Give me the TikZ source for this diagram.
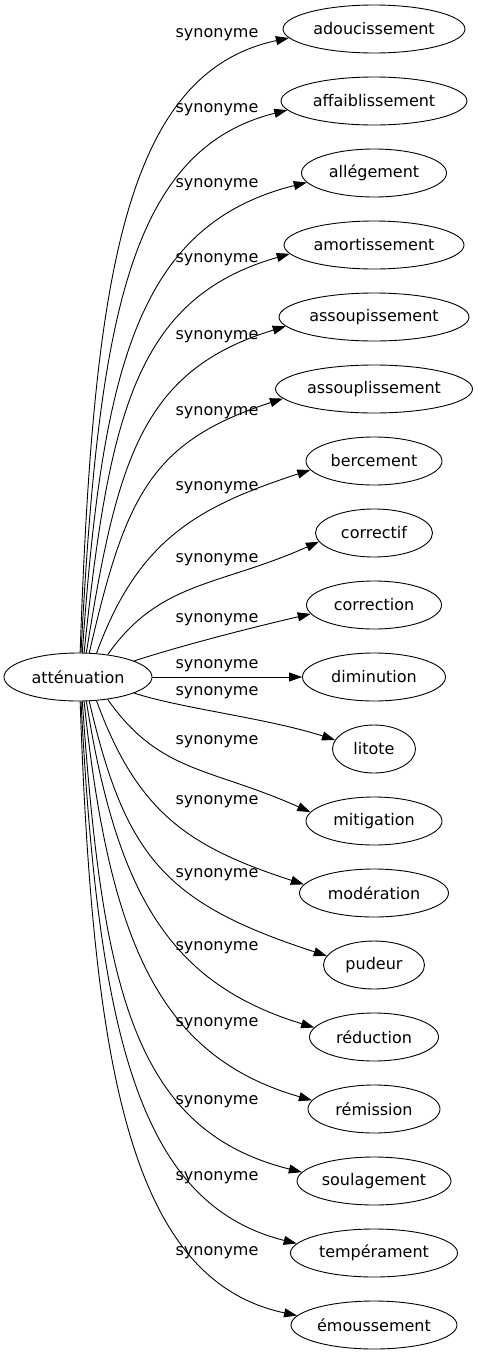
\documentclass[tikz,border=0pt]{standalone}
\usepackage{fontspec}
\setmainfont{DejaVu Sans}
\usetikzlibrary{arrows.meta,shapes.geometric}

\begin{document}
\begin{tikzpicture}[
  x=1pt, y=1pt,
  every node/.style={font=\fontsize{16}{19}\selectfont},
  word/.style={draw, ellipse, inner sep=0pt, minimum height=48pt, line width=0.9pt},
  rel/.style={inner sep=0pt},
  syn/.style={-{Triangle[length=13pt,width=9pt]}, line width=0.9pt}
]
\useasboundingbox (0,0) rectangle (478,-1355);
\node[word, minimum width=148pt] (c) at (78,-677) {atténuation};
\foreach \i/\word/\w/\ly in {0/adoucissement/182/35, 1/affaiblissement/186/110,
    2/allégement/145/185, 3/amortissement/180/260, 4/assoupissement/190/337,
    5/assouplissement/197/413, 6/bercement/136/488, 7/correctif/117/560,
    8/correction/135/620, 9/diminution/143/666, 10/litote/83/693,
    11/mitigation/136/742, 12/modération/149/802, 13/pudeur/101/875,
    14/réduction/129/948, 15/rémission/132/1024, 16/soulagement/154/1102,
    17/tempérament/167/1178, 18/émoussement/166/1253}{
  \node[word, minimum width=\w pt] (n\i) at (374,{-29-72*\i}) {\word};
  \node[rel] (l\i) at (217,-\ly) {synonyme};
}
% upper fan
\foreach \i/\sa/\oa/\ia/\lo/\li/\ea in {0/85/88/192/370/170/186, 1/83/87/194/327/165/186,
    2/80/86/194/284/175/188, 3/76/84/196/240/160/186, 4/71/81/197/197/150/186,
    5/65/77/198/160/140/186, 6/52/70/198/120/120/188, 7/37/55/204/90/110/189,
    8/16/18/193/50/60/188}
  \draw[syn] (c.\sa) to[out=\oa, in=\ia, out distance=\lo pt, in distance=\li pt] (n\i.\ea);
\draw[syn] (c.east) -- (n9.west);
% lower fan
\foreach \i/\sa/\oa/\ia/\lo/\li/\ea in {10/344/342/162/50/70/167, 11/323/305/156/90/110/172,
    12/308/290/162/120/120/173, 13/295/283/162/160/170/169, 14/289/279/163/197/150/171,
    15/284/276/164/240/160/172, 16/280/274/166/284/175/173, 17/277/273/166/327/165/173,
    18/275/272/168/370/170/173}
  \draw[syn] (c.\sa) to[out=\oa, in=\ia, out distance=\lo pt, in distance=\li pt] (n\i.\ea);
\end{tikzpicture}
\end{document}
